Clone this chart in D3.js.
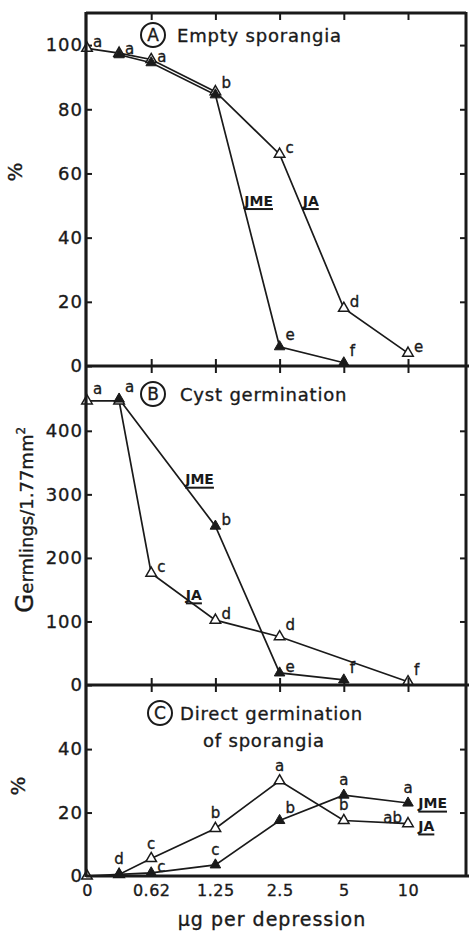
<!DOCTYPE html>
<html>
<head>
<meta charset="utf-8">
<script src="https://cdn.jsdelivr.net/npm/d3@7"></script>
<style>
body { margin: 0; background: #fff; }
svg { display: block; }
text { font-family: "DejaVu Sans", sans-serif; fill: #1a1a1a; stroke: #1a1a1a; stroke-width: 0.35px; }
.tick text { font-size: 18px; letter-spacing: 1px; }
.xt .tick text { font-size: 16px; letter-spacing: 0.5px; }
.let { font-size: 15px; }
.ser { font-size: 14px; font-weight: bold; stroke-width: 0; }
.ttl { font-size: 18px; letter-spacing: 0.8px; }
</style>
</head>
<body>
<div id="chart"></div>
<script>
// dose levels, ug per depression (0.31 sits between 0 and 0.62 with no label)
var doses = [0, 0.31, 0.62, 1.25, 2.5, 5, 10];
var doseTicks = ["0", "0.62", "1.25", "2.5", "5", "10"];

// A  empty sporangia, %
var emptyJA  = [99, 97.5, 95.5, 85.5, 66, 18, 4];
var emptyJME = [null, 97, 94.5, 84.5, 6, 1, null];
var emptyJALetters  = ["a", "", "", "", "c", "d", "e"];
var emptyJMELetters = ["", "a", "a", "b", "e", "f", ""];
var emptyTicks = [0, 20, 40, 60, 80, 100];

// B  cyst germination, germlings / 1.77 mm2
var cystJA  = [447, 447, 176, 102, 76, null, 5];
var cystJME = [null, 450, null, 250, 19, 8, null];
var cystJALetters  = ["a", "", "c", "d", "d", "", "f"];
var cystJMELetters = ["", "a", "", "b", "e", "f", ""];
var cystTicks = [0, 100, 200, 300, 400];

// C  direct germination of sporangia, %
var directJA  = [0, 0.5, 5.5, 15, 30, 17.5, 16.5];
var directJME = [null, 0.5, 1, 3.5, 17.5, 25.5, 23];
var directJALetters  = ["", "", "c", "b", "a", "b", "ab"];
var directJMELetters = ["", "d", "c", "c", "b", "a", "a"];
var directTicks = [0, 20, 40];

var width = 469, height = 935;
var left = 86, right = 466, frameTop = 13, bottom = 876;
var ink = "#1a1a1a";

var svg = d3.select("#chart").append("svg")
    .attr("width", width)
    .attr("height", height);
svg.append("rect").attr("width", width).attr("height", height).attr("fill", "#fff");

var x = d3.scalePoint().domain(doseTicks).range([87, 408]);
var slot = d3.scaleLinear().domain([0, 5]).range([87, 408]);

function xDose(d) {
    if (d === 0.31) return (x("0") + x("0.62")) / 2;
    return x(String(d));
}

var tri = d3.symbol().type(d3.symbolTriangle).size(48);

// where the small letters go, relative to their point
var sideOffset = {
    r:  [6, -1, "start"],
    rt: [6, -7, "start"],
    t:  [0, -10, "middle"],
    l:  [-6, -1, "end"]
};

function points(vals, letters, sides) {
    return doses.map(function(d, i) {
        return {dose: d, v: vals[i], letter: letters[i], side: sides[i]};
    }).filter(function(p) { return p.v != null; });
}

function drawPanel(y0, y1, yMax, ticks, ja, jme) {
    var y = d3.scaleLinear().domain([0, yMax]).range([y1, y0]);
    var g = svg.append("g");

    g.append("g").attr("transform", "translate(" + left + ",0)")
        .call(d3.axisLeft(y).tickValues(ticks).tickSize(-6).tickPadding(3))
        .call(function(s) { s.select(".domain").remove(); })
        .attr("font-family", null).attr("font-size", null)
        .selectAll("line").attr("stroke", ink).attr("stroke-width", 2);

    g.append("g").attr("transform", "translate(" + right + ",0)")
        .call(d3.axisRight(y).tickValues(ticks.filter(function(t) { return t > 0; }))
            .tickSize(-6).tickFormat(""))
        .call(function(s) { s.select(".domain").remove(); })
        .selectAll("line").attr("stroke", ink).attr("stroke-width", 2);

    var line = d3.line()
        .x(function(d) { return xDose(d.dose); })
        .y(function(d) { return y(d.v); });

    [ja, jme].forEach(function(s) {
        g.append("path").datum(s)
            .attr("d", line)
            .attr("fill", "none")
            .attr("stroke", ink)
            .attr("stroke-width", 1.7);
    });

    g.selectAll(".ja").data(ja).enter().append("path")
        .attr("transform", function(d) { return "translate(" + xDose(d.dose) + "," + y(d.v) + ")"; })
        .attr("d", tri)
        .attr("fill", "#fff")
        .attr("stroke", ink)
        .attr("stroke-width", 1.5);

    g.selectAll(".jme").data(jme).enter().append("path")
        .attr("transform", function(d) { return "translate(" + xDose(d.dose) + "," + y(d.v) + ")"; })
        .attr("d", tri)
        .attr("fill", ink)
        .attr("stroke", ink)
        .attr("stroke-width", 1);

    g.selectAll(".let").data(ja.concat(jme).filter(function(d) { return d.letter; }))
        .enter().append("text")
        .attr("class", "let")
        .attr("x", function(d) { return xDose(d.dose) + sideOffset[d.side][0]; })
        .attr("y", function(d) { return y(d.v) + sideOffset[d.side][1]; })
        .attr("text-anchor", function(d) { return sideOffset[d.side][2]; })
        .text(function(d) { return d.letter; });

    return y;
}

function seriesLabel(y, name, s, v) {
    var t = svg.append("text")
        .attr("class", "ser")
        .attr("x", slot(s))
        .attr("y", y(v))
        .text(name);
    var w = t.node().getComputedTextLength();
    svg.append("line")
        .attr("x1", slot(s)).attr("x2", slot(s) + w)
        .attr("y1", y(v) + 3.5).attr("y2", y(v) + 3.5)
        .attr("stroke", ink).attr("stroke-width", 2);
}

function title(letter, cx, cy, lines) {
    svg.append("circle").attr("cx", cx).attr("cy", cy).attr("r", 12)
        .attr("fill", "none").attr("stroke", ink).attr("stroke-width", 2);
    svg.append("text").attr("x", cx).attr("y", cy + 6)
        .attr("text-anchor", "middle")
        .style("font-size", "17px")
        .text(letter);
    lines.forEach(function(l) {
        svg.append("text").attr("class", "ttl")
            .attr("x", l[1]).attr("y", l[2]).text(l[0]);
    });
}

// panel A
var yA = drawPanel(frameTop, 366, 110, emptyTicks,
    points(emptyJA, emptyJALetters, ["r", "r", "r", "r", "r", "r", "r"]),
    points(emptyJME, emptyJMELetters, ["r", "r", "r", "rt", "rt", "rt", "r"]));
seriesLabel(yA, "JME", 2.45, 50);
seriesLabel(yA, "JA", 3.36, 50);
title("A", 153, 35, [["Empty sporangia", 177, 42]]);

// panel B
var yB = drawPanel(366, 685, 502, cystTicks,
    points(cystJA, cystJALetters, ["rt", "r", "r", "r", "rt", "r", "rt"]),
    points(cystJME, cystJMELetters, ["r", "rt", "r", "r", "r", "rt", "r"]));
seriesLabel(yB, "JME", 1.53, 316);
seriesLabel(yB, "JA", 1.54, 134);
title("B", 153, 394, [["Cyst germination", 180, 401]]);

// panel C
var yC = drawPanel(685, bottom, 60.2, directTicks,
    points(directJA, directJALetters, ["t", "t", "t", "t", "t", "t", "l"]),
    points(directJME, directJMELetters, ["t", "t", "r", "t", "rt", "t", "t"]));
seriesLabel(yC, "JME", 5.16, 21.4);
seriesLabel(yC, "JA", 5.16, 14.2);
title("C", 160, 713, [["Direct germination", 180, 720], ["of sporangia", 203, 747]]);

// frame
var frame = svg.append("g").attr("stroke", ink).attr("fill", "none");
frame.append("line").attr("x1", left).attr("x2", left).attr("y1", frameTop - 1).attr("y2", bottom + 1).attr("stroke-width", 3.2);
frame.append("line").attr("x1", left).attr("x2", right).attr("y1", frameTop).attr("y2", frameTop).attr("stroke-width", 3);
frame.append("line").attr("x1", right).attr("x2", right).attr("y1", frameTop - 1).attr("y2", bottom).attr("stroke-width", 3);
[366, 685, bottom].forEach(function(yy) {
    frame.append("line").attr("x1", left).attr("x2", width).attr("y1", yy).attr("y2", yy).attr("stroke-width", 3);
});

// ticks on top border and across the panel breaks
var inner = doseTicks.slice(1);
svg.append("g").attr("transform", "translate(0," + frameTop + ")")
    .call(d3.axisTop(x).tickValues(inner).tickSize(-7).tickFormat(""))
    .call(function(s) { s.select(".domain").remove(); })
    .selectAll("line").attr("stroke", ink).attr("stroke-width", 2);
[366, 685].forEach(function(yy) {
    svg.append("g").attr("transform", "translate(0," + yy + ")")
        .call(d3.axisBottom(x).tickValues(inner).tickSize(7).tickFormat(""))
        .call(function(s) { s.select(".domain").remove(); })
        .selectAll("line").attr("stroke", ink).attr("stroke-width", 2).attr("y1", -7);
});

// bottom axis labels
svg.append("g").attr("class", "xt").attr("transform", "translate(0," + bottom + ")")
    .call(d3.axisBottom(x).tickSize(0).tickPadding(9))
    .call(function(s) { s.select(".domain").remove(); })
    .attr("font-family", null).attr("font-size", null);

// axis titles
svg.append("text").attr("transform", "translate(22,172) rotate(-90)")
    .attr("text-anchor", "middle").style("font-size", "20px").text("%");
svg.append("text").attr("transform", "translate(25,786) rotate(-90)")
    .attr("text-anchor", "middle").style("font-size", "20px").text("%");

var gl = svg.append("text").attr("transform", "translate(33,520) rotate(-90)")
    .attr("text-anchor", "middle").style("font-size", "18px");
gl.append("tspan").style("font-size", "25px").text("G");
gl.append("tspan").text("ermlings/1.77mm");
gl.append("tspan").attr("dy", -8).style("font-size", "12px").text("2");

svg.append("text").attr("x", 272).attr("y", 926)
    .attr("text-anchor", "middle")
    .style("font-size", "19px").style("letter-spacing", "1px")
    .text("μg per depression");
</script>
</body>
</html>
